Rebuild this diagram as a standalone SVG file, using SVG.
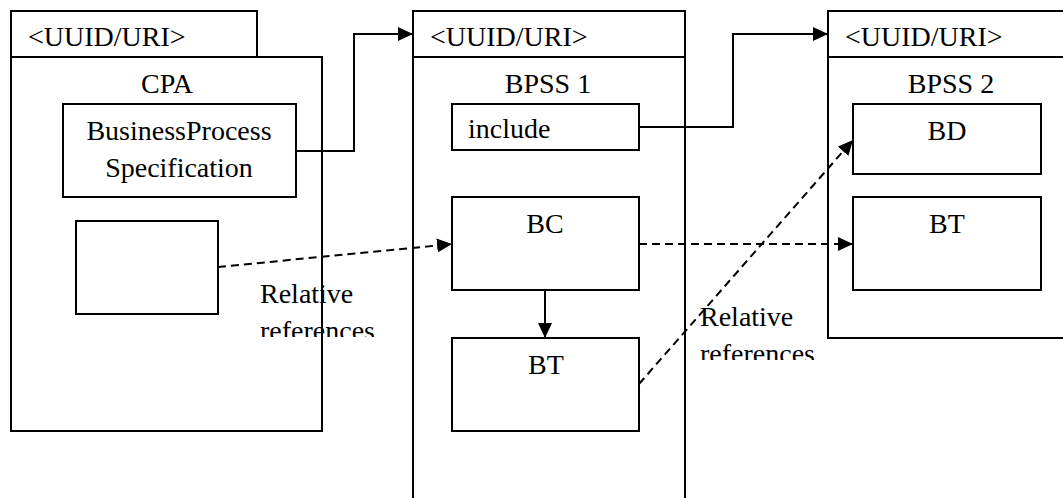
<svg xmlns="http://www.w3.org/2000/svg" width="1063" height="498" viewBox="0 0 1063 498">
<style>
.b{fill:#fff;stroke:#000;stroke-width:2}
.t{font-family:'Liberation Serif','Times New Roman','DejaVu Serif',serif;font-size:28px;fill:#000}
.m{text-anchor:middle}
.c{fill:none;stroke:#000;stroke-width:2}
.d{fill:none;stroke:#000;stroke-width:2;stroke-dasharray:8 5}
</style>
<defs>
<marker id="ah" markerUnits="userSpaceOnUse" markerWidth="15" markerHeight="14" refX="15" refY="7" orient="auto">
<path d="M0,0 L15,7 L0,14 Z" fill="#000"/>
</marker>
<clipPath id="cl1"><rect x="250" y="270" width="200" height="67"/></clipPath>
<clipPath id="cl2"><rect x="690" y="290" width="200" height="70"/></clipPath>
</defs>
<g id="cpa">
<rect class="b" x="11" y="11" width="246" height="46"/>
<text class="t" x="28" y="46">&lt;UUID/URI&gt;</text>
<rect class="b" x="11" y="57" width="311" height="374"/>
<text class="t m" x="167" y="93">CPA</text>
</g>
<g id="bps">
<rect class="b" x="63" y="104" width="233" height="93"/>
<text class="t m" x="179" y="140">BusinessProcess</text>
<text class="t m" x="179" y="177">Specification</text>
</g>
<g id="cpa-empty">
<rect class="b" x="76" y="221" width="142" height="93"/>
</g>
<g id="bpss1">
<rect class="b" x="413" y="11" width="272" height="46"/>
<text class="t" x="430" y="46">&lt;UUID/URI&gt;</text>
<rect class="b" x="413" y="57" width="272" height="460"/>
<text class="t m" x="548" y="93">BPSS 1</text>
</g>
<g id="include">
<rect class="b" x="452" y="104" width="187" height="46"/>
<text class="t" x="468" y="138">include</text>
</g>
<g id="bc">
<rect class="b" x="452" y="197" width="187" height="93"/>
<text class="t m" x="545" y="233">BC</text>
</g>
<g id="bt1">
<rect class="b" x="452" y="338" width="187" height="93"/>
<text class="t m" x="546" y="374">BT</text>
</g>
<g id="bpss2">
<rect class="b" x="828" y="11" width="260" height="46"/>
<text class="t" x="845" y="46">&lt;UUID/URI&gt;</text>
<rect class="b" x="828" y="57" width="260" height="281"/>
<text class="t m" x="951" y="93">BPSS 2</text>
</g>
<g id="bd">
<rect class="b" x="853" y="104" width="188" height="70"/>
<text class="t m" x="947" y="140">BD</text>
</g>
<g id="bt2">
<rect class="b" x="853" y="197" width="188" height="93"/>
<text class="t m" x="947" y="233">BT</text>
</g>
<g id="connectors">
<polyline class="c" points="296,151 354,151 354,34 413,34" marker-end="url(#ah)"/>
<polyline class="c" points="639,127 733,127 733,34 828,34" marker-end="url(#ah)"/>
<line class="c" x1="545" y1="290" x2="545" y2="338" marker-end="url(#ah)"/>
<line class="d" x1="218" y1="267" x2="452" y2="244" marker-end="url(#ah)"/>
<line class="d" x1="639" y1="244" x2="853" y2="244" marker-end="url(#ah)"/>
<line class="d" x1="639" y1="384" x2="853" y2="140" marker-end="url(#ah)"/>
</g>
<g id="label1" clip-path="url(#cl1)">
<text class="t" x="260" y="303">Relative</text>
<text class="t" x="260" y="340">references</text>
</g>
<g id="label2" clip-path="url(#cl2)">
<text class="t" x="700" y="326">Relative</text>
<text class="t" x="700" y="363">references</text>
</g>
</svg>
